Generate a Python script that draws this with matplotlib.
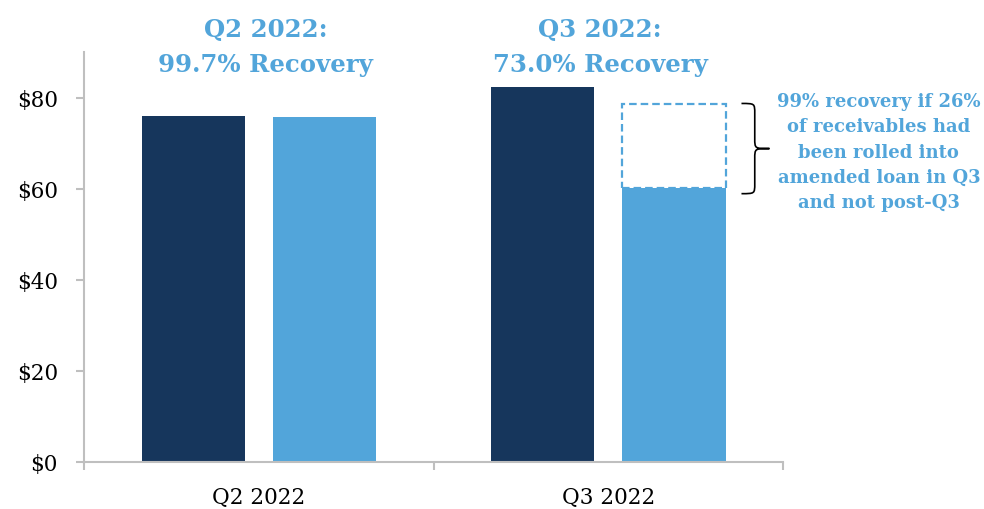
import matplotlib
matplotlib.use("Agg")
import matplotlib.pyplot as plt
import matplotlib.transforms as mtransforms
from matplotlib.patches import Rectangle, PathPatch
from matplotlib.path import Path

# ---- data ----
categories = ["Q2 2022", "Q3 2022"]
receivables = [76.0, 82.3]        # dark bars
collections = [75.8, 60.1]        # light bars
title_lines = [["Q2 2022:", "99.7% Recovery"], ["Q3 2022:", "73.0% Recovery"]]
potential_q3 = 78.6               # dashed outline top
yticks = [0, 20, 40, 60, 80]
ytick_labels = [r"\$0", r"\$20", r"\$40", r"\$60", r"\$80"]
note_lines = ["99% recovery if 26%", "of receivables had", "been rolled into",
              "amended loan in Q3", "and not post-Q3"]

DARK = "#16365C"
LIGHT = "#52A5DA"
GRID = "#BFBFBF"

plt.rcParams["font.family"] = ["DejaVu Serif"]

fig = plt.figure(figsize=(9.84, 5.10), dpi=100)
ax = fig.add_axes([0.0854, 0.0922, 0.7104, 0.8039])

x = list(range(len(categories)))
w = 0.295
off = 0.188
ax.bar([i - off for i in x], receivables, width=w, color=DARK, zorder=2)
ax.bar([i + off for i in x], collections, width=w, color=LIGHT, zorder=2)

# dashed outline on top of the Q3 light bar
ax.add_patch(Rectangle((1 + off - w / 2, collections[1]), w,
                       potential_q3 - collections[1], fill=False,
                       edgecolor=LIGHT, lw=1.6, linestyle=(0, (3.4, 1.8)),
                       zorder=3, clip_on=False))

ax.set_xlim(-0.5, 1.5)
ax.set_ylim(0, 90)

for s in ["top", "right"]:
    ax.spines[s].set_visible(False)
for s in ["left", "bottom"]:
    ax.spines[s].set_color(GRID)
    ax.spines[s].set_linewidth(1.5)

ax.set_yticks(yticks)
ax.set_yticklabels(ytick_labels)
ax.tick_params(axis="y", length=5.8, width=1.5, color=GRID, pad=13,
               labelsize=15.5, labelcolor="black")

ax.set_xticks(x)
ax.set_xticklabels(categories)
ax.tick_params(axis="x", which="major", length=0, pad=17, labelsize=15.5)
ax.set_xticks([-0.5, 0.5, 1.5], minor=True)
ax.tick_params(axis="x", which="minor", length=6, width=1.5, color=GRID,
               direction="out")

# titles above each quarter
title_x = [0.019, 0.977]
for tx, lines in zip(title_x, title_lines):
    ax.text(tx, 93.6, lines[0], ha="center", va="baseline", color=LIGHT,
            fontsize=17.6, fontweight="bold", clip_on=False)
    ax.text(tx, 85.9, lines[1], ha="center", va="baseline", color=LIGHT,
            fontsize=17.6, fontweight="bold", clip_on=False)

# curly brace beside the dashed outline
x0, xv, xt = 1.381, 1.419, 1.461
yt, yb = 78.7, 58.9
ym = (yt + yb) / 2
r = 2.2
verts = [(x0, yt), (xv, yt), (xv, yt), (xv, yt - r),
         (xv, ym + r),
         (xv, ym), (xv, ym), (xt, ym),
         (xv, ym), (xv, ym), (xv, ym - r),
         (xv, yb + r),
         (xv, yb), (xv, yb), (x0, yb)]
codes = [Path.MOVETO, Path.CURVE4, Path.CURVE4, Path.CURVE4,
         Path.LINETO,
         Path.CURVE4, Path.CURVE4, Path.CURVE4,
         Path.CURVE4, Path.CURVE4, Path.CURVE4,
         Path.LINETO,
         Path.CURVE4, Path.CURVE4, Path.CURVE4]
ax.add_patch(PathPatch(Path(verts, codes), fill=False, edgecolor="black",
                       lw=1.2, clip_on=False))

# side note
for k, line in enumerate(note_lines):
    tr = mtransforms.offset_copy(ax.transData, fig=fig, x=0,
                                 y=-25.4 * k * 72 / 100, units="points")
    ax.text(1.774, 78.2, line, transform=tr, ha="center", va="baseline",
            color=LIGHT, fontsize=13, fontweight="bold", clip_on=False)

fig.savefig("out.png", dpi=100)
